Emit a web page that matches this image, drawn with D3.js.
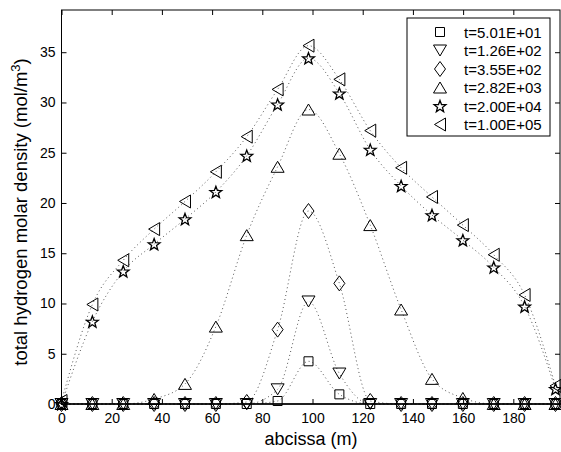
<!DOCTYPE html>
<html>
<head>
<meta charset="utf-8">
<script src="https://cdn.jsdelivr.net/npm/d3@7"></script>
<style>
body{margin:0;background:#fff;}
text{font-family:Arial,"Liberation Sans",Helvetica,sans-serif;}
</style>
</head>
<body>
<svg width="561" height="452"></svg>
<script>
var svg = d3.select('svg');

// abscissa of the nodes (m)
var xPos = [0, 12.3, 24.6, 36.9, 49.2, 61.5, 73.8, 86.1, 98.4, 110.7, 123, 135.3, 147.6, 159.9, 172.2, 184.5, 196.8];

// density values per time step
var t1 = [0, 0, 0, 0, 0, 0, 0, 0.3, 4.25, 0.96, 0, 0, 0, 0, 0, 0, 0];
var t2 = [0, 0, 0, 0, 0, 0, 0, 1.46, 10.2, 3.03, 0, 0, 0, 0, 0, 0, 0];
var t3 = [0, 0, 0, 0, 0, 0, 0.2, 7.4, 19.2, 12.0, 0.3, 0, 0, 0, 0, 0, 0];
var t4 = [0, 0, 0, 0.5, 2.0, 7.7, 16.8, 23.6, 29.3, 24.9, 17.8, 9.4, 2.5, 0.6, 0, 0, 0];
var t5 = [0, 8.2, 13.2, 15.9, 18.4, 21.1, 24.7, 29.8, 34.4, 30.9, 25.3, 21.7, 18.8, 16.3, 13.6, 9.7, 1.5];
var t6 = [0.3, 9.9, 14.3, 17.4, 20.15, 23.1, 26.6, 31.3, 35.65, 32.3, 27.2, 23.5, 20.6, 17.8, 14.85, 10.85, 1.8];

var legendLabels = ["t=5.01E+01", "t=1.26E+02", "t=3.55E+02", "t=2.82E+03", "t=2.00E+04", "t=1.00E+05"];
var markerTypes = ["square", "down", "diamond", "up", "star", "left"];
var xTicks = [0, 20, 40, 60, 80, 100, 120, 140, 160, 180];
var yTicks = [0, 5, 10, 15, 20, 25, 30, 35];

var allSeries = [t1, t2, t3, t4, t5, t6];

var pLeft = 61.5, pRight = 560, pTop = 10, pBottom = 404;
var ScaleX = d3.scaleLinear().domain([0, 198.6]).range([pLeft, pRight]);
var ScaleY = d3.scaleLinear().domain([0, 39.2]).range([pBottom, pTop]);

// marker shapes (matlab style, open)
function markerPath(type){
    if(type == "square") return "M-4.5,-4.5H4.5V4.5H-4.5Z";
    if(type == "down") return "M-6.5,-5.5L6.5,-5.5L0,5.5Z";
    if(type == "up") return "M-6.5,5.5L6.5,5.5L0,-5.5Z";
    if(type == "diamond") return "M0,-7.5L5.5,0L0,7.5L-5.5,0Z";
    if(type == "left") return "M-5.5,0L5.5,-6.5L5.5,6.5Z";
    // pentagram
    var p = [];
    for(var k=0;k<10;k++){
        var r = (k%2==0) ? 6.2 : 2.6;
        var a = -Math.PI/2 + k*Math.PI/5;
        p.push((r*Math.cos(a)).toFixed(2)+","+(r*Math.sin(a)+0.6).toFixed(2));
    }
    return "M"+p.join("L")+"Z";
}

// dotted curves
var line = d3.line()
    .x(function(d,i){ return ScaleX(xPos[i]); })
    .y(function(d){ return ScaleY(d); })
    .curve(d3.curveMonotoneX);

svg.selectAll('.curve')
    .data(allSeries)
    .enter()
    .append('path')
    .attr('class','curve')
    .attr('d', line)
    .attr('fill','none')
    .attr('stroke','#555')
    .attr('stroke-width',1)
    .attr('stroke-dasharray','1,3');

// axes (ticks pointing inward, on all four sides)
svg.append('rect')
    .attr('x',pLeft).attr('y',pTop)
    .attr('width',pRight-pLeft).attr('height',pBottom-pTop)
    .attr('fill','none').attr('stroke','#000').attr('stroke-width',1);

var gx = svg.append('g')
    .attr('transform','translate(0,'+pBottom+')')
    .call(d3.axisBottom(ScaleX).tickValues(xTicks).tickSizeInner(-5).tickSizeOuter(0).tickPadding(9));
var gy = svg.append('g')
    .attr('transform','translate('+pLeft+',0)')
    .call(d3.axisLeft(ScaleY).tickValues(yTicks).tickSizeInner(-5).tickSizeOuter(0).tickPadding(6));
var gt = svg.append('g')
    .attr('transform','translate(0,'+pTop+')')
    .call(d3.axisTop(ScaleX).tickValues(xTicks).tickSizeInner(-5).tickSizeOuter(0).tickFormat(''));
var gr = svg.append('g')
    .attr('transform','translate('+pRight+',0)')
    .call(d3.axisRight(ScaleY).tickValues(yTicks).tickSizeInner(-5).tickSizeOuter(0).tickFormat(''));

[gx, gy, gt, gr].forEach(function(g){
    g.select('.domain').remove();
    g.selectAll('line').attr('stroke','#000');
    g.selectAll('text').attr('fill','#000').style('font-size','14px').style('font-family','Arial, "Liberation Sans", sans-serif');
});

// markers
allSeries.forEach(function(s, j){
    svg.selectAll('.m'+j)
        .data(s)
        .enter()
        .append('path')
        .attr('class','m'+j)
        .attr('d', markerPath(markerTypes[j]))
        .attr('transform', function(d,i){ return 'translate('+ScaleX(xPos[i])+','+ScaleY(d)+')'; })
        .attr('fill','none')
        .attr('stroke','#000')
        .attr('stroke-width', markerTypes[j]=="star" ? 1.3 : 1);
});

// x axis line redrawn on top
svg.append('line')
    .attr('x1',pLeft).attr('x2',pRight).attr('y1',pBottom).attr('y2',pBottom)
    .attr('stroke','#000').attr('stroke-width',1.5);

// legend
var legend = svg.append('g');
legend.append('rect')
    .attr('x',407).attr('y',18).attr('width',143).attr('height',118)
    .attr('fill','#fff').attr('stroke','#000').attr('stroke-width',1);
legendLabels.forEach(function(lab, j){
    var yy = 32 + j*18.5;
    legend.append('path')
        .attr('d', markerPath(markerTypes[j]))
        .attr('transform','translate(440,'+yy+')')
        .attr('fill','none').attr('stroke','#000')
        .attr('stroke-width', markerTypes[j]=="star" ? 1.3 : 1);
    legend.append('text')
        .text(lab)
        .attr('x',464).attr('y',yy+5.5)
        .style('font-size','15px');
});

// axis titles
svg.append('text')
    .text('abcissa (m)')
    .attr('transform','translate(311,445)')
    .style('text-anchor','middle')
    .style('font-size','18px');

var ylab = svg.append('text')
    .attr('transform','translate(27,212)rotate(-90)')
    .style('text-anchor','middle')
    .style('font-size','18.5px');
ylab.append('tspan').text('total hydrogen molar density (mol/m');
ylab.append('tspan').text('3').attr('dy',-7).style('font-size','13px');
ylab.append('tspan').text(')').attr('dy',7);
</script>
</body>
</html>
